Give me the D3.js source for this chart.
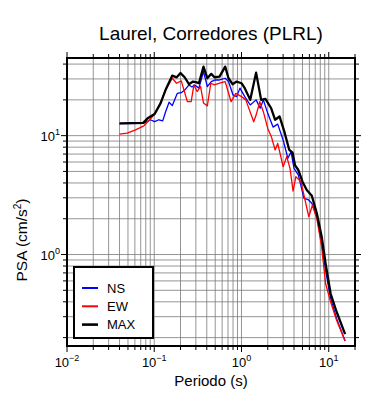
<!DOCTYPE html>
<html>
<head>
<meta charset="utf-8">
<script src="https://cdn.jsdelivr.net/npm/d3@7"></script>
<style>
body { margin: 0; background: #fff; }
text { font-family: "Liberation Sans", Arial, Helvetica, sans-serif; fill: #000; }
</style>
</head>
<body>
<div class="svg-container"></div>
<script>
// data
var periodsNS = [0.040, 0.075, 0.090, 0.101, 0.113, 0.125, 0.135, 0.148, 0.161, 0.184, 0.204, 0.225, 0.25, 0.27, 0.29, 0.325, 0.367, 0.406, 0.45, 0.50, 0.56, 0.65, 0.71, 0.80, 0.88, 0.96, 1.09, 1.26, 1.47, 1.64, 1.78, 2.0, 2.3, 2.6, 3.0, 3.4, 3.7, 4.0, 4.48, 5.2, 5.8, 6.4, 7.3, 8.3, 9.2, 10.5, 12.3, 15.4];
var valuesNS = [12.6, 12.7, 13.6, 13.1, 13.6, 13.3, 15.9, 19.1, 17.9, 22.7, 23, 24.3, 26.7, 25.7, 26.7, 25.1, 34.6, 25.9, 28.5, 29.4, 29.4, 30.4, 28.5, 22.0, 21.3, 25.1, 21.3, 18.1, 20, 17, 20, 15.4, 11.8, 12.5, 9.2, 6.45, 7.3, 5.3, 4.67, 2.97, 2.9, 2.7, 2.08, 1.24, 0.74, 0.43, 0.29, 0.187];

var periodsEW = [0.040, 0.049, 0.061, 0.076, 0.087, 0.101, 0.118, 0.135, 0.161, 0.18, 0.204, 0.24, 0.265, 0.285, 0.31, 0.34, 0.367, 0.406, 0.445, 0.49, 0.56, 0.65, 0.76, 0.86, 1.0, 1.12, 1.38, 1.47, 1.62, 1.78, 2.0, 2.2, 2.43, 2.6, 3.0, 3.3, 3.6, 3.9, 4.2, 4.8, 5.3, 5.9, 6.5, 7.3, 8.3, 9.2, 10.5, 12.3, 15.4];
var valuesEW = [10.3, 10.5, 11.2, 12.1, 13.4, 15.2, 18.7, 24.3, 30.4, 27.6, 28.9, 19.3, 19.3, 26.7, 23.5, 25.9, 18.8, 17.8, 27.6, 26.7, 27.6, 28.5, 19.3, 22.7, 21.3, 20, 13.1, 14.9, 19.3, 15.9, 11.5, 9.8, 7.58, 8.6, 5.48, 6.66, 5.31, 3.42, 4.52, 4.1, 2.97, 2.08, 2.6, 2.01, 1.16, 0.57, 0.40, 0.28, 0.187];

var periodsMAX = [0.040, 0.0747, 0.084, 0.101, 0.118, 0.135, 0.161, 0.180, 0.20, 0.223, 0.25, 0.278, 0.30, 0.325, 0.367, 0.406, 0.45, 0.49, 0.56, 0.65, 0.71, 0.79, 0.88, 1.0, 1.09, 1.26, 1.47, 1.68, 1.88, 2.19, 2.43, 2.73, 3.1, 3.53, 3.85, 4.1, 4.48, 5.0, 5.6, 6.4, 7.3, 8.3, 9.2, 10.5, 12.3, 15.4];
var valuesMAX = [12.7, 12.8, 14.0, 15.2, 18.7, 24.3, 32, 30.9, 33.6, 31, 27.1, 28.5, 28.2, 27.6, 38.1, 30.4, 33.1, 31, 31.4, 38.1, 30.4, 27.1, 28.5, 27.6, 25.1, 20, 33.9, 20, 20.4, 17, 13.6, 14.5, 10.8, 7.58, 7.2, 5.66, 5.14, 4.1, 3.49, 3.12, 2.22, 1.41, 0.84, 0.47, 0.33, 0.214];

var xMajor = [0.01, 0.1, 1, 10];
var xExp = ["\u22122", "\u22121", "0", "1"];
var yMajor = [1, 10];
var yExp = ["0", "1"];

var legendNames = ["NS", "EW", "MAX"];
var legendColors = ["#0000ff", "#ff0000", "#000000"];

var title = "Laurel, Corredores (PLRL)";

function render(){
    var width = 390;
    var height = 400;
    var left = 67, right = 355, top = 58, bottom = 346;

    var svg = d3.select(".svg-container").append("svg")
    .attr("width", width)
    .attr("height", height);

    var x = d3.scaleLog().domain([0.01, 20]).range([left, right]);
    var y = d3.scaleLog().domain([0.17, 45]).range([bottom, top]);

    var xTicks = x.ticks().filter(function(t){ return t > 0.0100001 && t < 20; });
    var yTicks = y.ticks();

    // Grid
    svg.append("g").selectAll("line")
    .data(xTicks)
    .enter().append("line")
    .attr("x1", function(d){ return x(d); })
    .attr("x2", function(d){ return x(d); })
    .attr("y1", top)
    .attr("y2", bottom)
    .style("stroke", "#7a7a7a")
    .style("stroke-width", 0.8);

    svg.append("g").selectAll("line")
    .data(yTicks)
    .enter().append("line")
    .attr("x1", left)
    .attr("x2", right)
    .attr("y1", function(d){ return y(d); })
    .attr("y2", function(d){ return y(d); })
    .style("stroke", "#7a7a7a")
    .style("stroke-width", 0.8);

    // Curves
    svg.append("clipPath").attr("id", "clip")
    .append("rect")
    .attr("x", left).attr("y", top)
    .attr("width", right - left).attr("height", bottom - top);

    var line = d3.line()
    .x(function(d){ return x(d[0]); })
    .y(function(d){ return y(d[1]); });

    var series = [
        { p: periodsNS, v: valuesNS, color: "#0000ff", w: 1.3 },
        { p: periodsEW, v: valuesEW, color: "#ff0000", w: 1.3 },
        { p: periodsMAX, v: valuesMAX, color: "#000000", w: 2.3 }
    ];

    series.forEach(function(s){
        svg.append("path")
        .datum(d3.zip(s.p, s.v))
        .attr("d", line)
        .attr("clip-path", "url(#clip)")
        .attr("fill", "none")
        .attr("stroke", s.color)
        .attr("stroke-width", s.w)
        .attr("stroke-linejoin", "round");
    });

    // Frame
    svg.append("rect")
    .attr("x", left).attr("y", top)
    .attr("width", right - left).attr("height", bottom - top)
    .style("fill", "none")
    .style("stroke", "black")
    .style("stroke-width", 2);

    // Ticks on all sides
    var isMajor = function(t){ return Math.abs(Math.log10(t) - Math.round(Math.log10(t))) < 1e-6; };
    var tk = svg.append("g").style("stroke", "black").style("stroke-width", 1);
    x.ticks().forEach(function(t){
        var len = isMajor(t) ? 5 : 3;
        tk.append("line").attr("x1", x(t)).attr("x2", x(t)).attr("y1", bottom + 1).attr("y2", bottom + 1 + len);
        tk.append("line").attr("x1", x(t)).attr("x2", x(t)).attr("y1", top - 1).attr("y2", top - 1 - len);
    });
    yTicks.forEach(function(t){
        var len = isMajor(t) ? 5 : 3;
        tk.append("line").attr("y1", y(t)).attr("y2", y(t)).attr("x1", left - 1).attr("x2", left - 1 - len);
        tk.append("line").attr("y1", y(t)).attr("y2", y(t)).attr("x1", right + 1).attr("x2", right + 1 + len);
    });

    // X tick labels
    xMajor.forEach(function(t, i){
        var lbl = svg.append("text")
        .attr("x", x(t))
        .attr("y", 367)
        .style("text-anchor", "middle")
        .style("font-size", "13px");
        lbl.append("tspan").text("10");
        lbl.append("tspan").attr("dy", -6).style("font-size", "9px").text(xExp[i]);
    });

    // Y tick labels
    yMajor.forEach(function(t, i){
        var lbl = svg.append("text")
        .attr("x", 60)
        .attr("y", y(t) + 5)
        .style("text-anchor", "end")
        .style("font-size", "13px");
        lbl.append("tspan").text("10");
        lbl.append("tspan").attr("dy", -6).style("font-size", "9px").text(yExp[i]);
    });

    // Title
    svg.append("text")
    .attr("x", (left + right) / 2)
    .attr("y", 40)
    .style("text-anchor", "middle")
    .style("font-size", "19px")
    .text(title);

    // X Axis Label
    svg.append("text")
    .attr("x", (left + right) / 2)
    .attr("y", 386)
    .style("text-anchor", "middle")
    .style("font-size", "15px")
    .text("Periodo (s)");

    // Y Axis Label
    var yl = svg.append("text")
    .attr("transform", "translate(27,240) rotate(-90)")
    .style("text-anchor", "middle")
    .style("font-size", "15.5px");
    yl.append("tspan").text("PSA (cm/s");
    yl.append("tspan").attr("dy", -6).style("font-size", "10px").text("2");
    yl.append("tspan").attr("dy", 6).text(")");

    // Legend
    var lg = svg.append("g");
    lg.append("rect")
    .attr("x", 74).attr("y", 267)
    .attr("width", 79).attr("height", 71)
    .style("fill", "white")
    .style("stroke", "black")
    .style("stroke-width", 2);

    legendNames.forEach(function(name, i){
        var ly = 288 + i * 18.3;
        lg.append("line")
        .attr("x1", 82).attr("x2", 98)
        .attr("y1", ly).attr("y2", ly)
        .style("stroke", legendColors[i])
        .style("stroke-width", i == 2 ? 2.6 : 2);
        lg.append("text")
        .attr("x", 107)
        .attr("y", ly + 4.5)
        .style("font-size", "13px")
        .text(name);
    });
}

render();
</script>
</body>
</html>
